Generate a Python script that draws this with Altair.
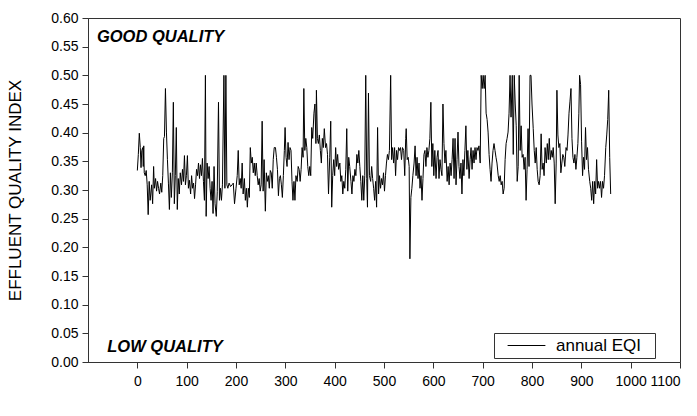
import altair as alt
import pandas as pd

# ---- data ----
day = [
    0, 2, 4, 6, 7.5, 9, 11, 12, 13, 14, 16, 18, 20, 22, 24, 26, 29, 31, 33, 34.5,
    37, 39, 41, 43, 45, 47.5, 49.5, 51.5, 53.5, 55, 57, 59, 61, 63, 65, 67, 69, 71, 73, 75,
    77, 79, 81, 83, 85, 87, 89.5, 91.5, 93.5, 95.5, 97.5, 99.5, 101.5, 103.5, 105.5, 108, 110, 112, 114, 116,
    118, 120, 122, 124, 126, 128, 130, 132, 134, 136, 138, 139.5, 141.5, 143.5, 145.5, 147.5, 149.5, 151.5, 153.5, 155.5,
    157.5, 160, 162, 164.5, 166.5, 168.5, 170.5, 172.5, 175.5, 177.5, 179.5, 181.5, 183.5, 186, 189, 192,
    194.5, 197, 200, 202.5, 204.5, 206.5, 208.5, 210.5, 212.5, 214.5, 217, 219, 221, 223, 225, 227, 229, 231, 233, 235,
    237, 239, 241, 243, 245, 247, 249, 251, 253, 255, 257, 259.5, 261.5, 263.5, 265.5, 267.5, 269.5, 271.5, 273.5, 275.5,
    277.5, 280, 282, 284, 286, 288, 290, 292, 294, 296, 298, 299.5, 301.5, 303.5, 305.5, 307.5, 309.5, 311.5, 313.5, 315.5,
    317.5, 319.5, 321.5, 324, 326, 328, 330, 332, 334, 336, 337.5, 339.5, 341.5, 343.5, 345.5, 347.5, 349.5, 351.5, 353.5, 355.5,
    358, 360, 362, 363, 365, 367, 369, 371, 373, 375, 377, 379, 381.5, 383.5, 385.5, 387.5,
    390, 392, 394, 396, 398, 400, 402, 404, 406, 408, 410.5, 412.5, 414.5, 416.5, 418.5, 420.5, 422.5, 424.5, 426.5, 428.5,
    430.5, 433, 435, 437, 439, 441, 443, 445, 447, 449, 451, 453, 455, 457, 459, 461, 463, 465, 466.5, 468.5,
    470.5, 473, 475, 477, 479, 481, 483, 485, 487, 489, 491, 493, 495, 497, 499, 501, 503, 505, 507, 509,
    511, 513.5, 515.5, 517.5, 519.5, 521.5, 523.5, 525.5, 527.5, 529.5, 531.5, 533.5, 535.5, 537.5, 540, 542, 544, 545, 547, 549,
    551, 552.5, 554.5, 556.5, 558.5, 561, 563, 565, 567, 569, 571, 573, 575, 577, 579, 581,
    583, 585, 587, 589, 591, 593, 595, 597, 599, 601, 603, 605.5, 607.5, 609.5, 611.5, 613.5, 615.5, 617.5, 619.5, 621.5,
    623.5, 625.5, 628, 630, 632, 634, 636, 638, 640, 642, 644, 646, 648, 650, 652, 654, 656, 658, 660, 662,
    664, 666, 668, 670, 672.5, 674.5, 676.5, 678.5, 680.5, 682.5, 684.5, 686.5, 688.5, 690.5, 692.5, 695, 697, 699, 701, 703,
    705, 707, 709, 711, 713, 715, 717, 719, 721, 723, 725, 727, 729, 731.5, 733.5, 735.5, 737.5, 739.5, 741.5, 743.5,
    745.5, 747.5, 749.5, 751.5, 753.5, 755.5, 757.5, 760, 762, 764, 766, 768, 770, 772, 774, 776,
    778, 780, 782, 784, 786, 788, 790, 792, 794, 796, 798, 800, 802.5, 804.5, 806.5, 808.5, 810.5, 812.5, 814.5, 816.5,
    818.5, 820.5, 822.5, 824.5, 826.5, 829, 831, 833, 835, 837, 839, 841, 843, 845, 847, 849, 850.5, 852.5, 854.5, 856.5,
    858.5, 860.5, 862.5, 864.5, 866.5, 869, 871, 873, 875, 877, 879, 881, 883, 885, 887, 889, 891, 893, 895, 896.5,
    898.5, 900.5, 902.5, 904.5, 906.5, 908.5, 910.5, 912.5, 914.5, 917, 919, 921, 923, 925, 927, 929, 931, 933, 935, 937,
    939, 941, 943, 945, 947, 949.5, 951.5, 953.5, 955.5, 957.5, 959.5,
]

eqi = [
    0.334, 0.362, 0.399, 0.374, 0.339, 0.369, 0.374, 0.341, 0.377, 0.330, 0.325, 0.334, 0.309, 0.257, 0.315, 0.282, 0.309, 0.276, 0.341, 0.303,
    0.320, 0.298, 0.315, 0.303, 0.293, 0.312, 0.296, 0.325, 0.390, 0.393, 0.477, 0.401, 0.353, 0.312, 0.266, 0.330, 0.287, 0.330, 0.453, 0.276,
    0.325, 0.409, 0.266, 0.320, 0.293, 0.330, 0.309, 0.336, 0.315, 0.360, 0.309, 0.325, 0.360, 0.303, 0.317, 0.293, 0.325, 0.303, 0.312, 0.285,
    0.309, 0.336, 0.325, 0.347, 0.320, 0.344, 0.325, 0.355, 0.315, 0.282, 0.500, 0.254, 0.347, 0.320, 0.341, 0.303, 0.282, 0.315, 0.259, 0.341,
    0.276, 0.254, 0.297, 0.453, 0.282, 0.303, 0.282, 0.309, 0.500, 0.303, 0.500, 0.309, 0.303, 0.312, 0.306, 0.309,
    0.312, 0.276, 0.303, 0.325, 0.369, 0.309, 0.320, 0.303, 0.347, 0.293, 0.320, 0.282, 0.303, 0.270, 0.303, 0.287, 0.374, 0.347, 0.357, 0.330,
    0.347, 0.325, 0.347, 0.325, 0.309, 0.320, 0.298, 0.309, 0.420, 0.298, 0.353, 0.263, 0.330, 0.315, 0.325, 0.303, 0.334, 0.330, 0.303, 0.353,
    0.374, 0.374, 0.357, 0.336, 0.290, 0.320, 0.325, 0.309, 0.287, 0.325, 0.369, 0.409, 0.357, 0.341, 0.383, 0.353, 0.374, 0.369, 0.315, 0.282,
    0.315, 0.282, 0.325, 0.315, 0.341, 0.336, 0.315, 0.336, 0.374, 0.357, 0.477, 0.369, 0.390, 0.374, 0.341, 0.325, 0.341, 0.325, 0.409, 0.390,
    0.434, 0.450, 0.381, 0.474, 0.390, 0.381, 0.396, 0.369, 0.347, 0.390, 0.374, 0.407, 0.374, 0.381, 0.362, 0.293,
    0.357, 0.420, 0.270, 0.325, 0.353, 0.325, 0.374, 0.341, 0.362, 0.336, 0.347, 0.315, 0.325, 0.293, 0.315, 0.303, 0.336, 0.407, 0.298, 0.357,
    0.341, 0.315, 0.293, 0.325, 0.315, 0.336, 0.325, 0.362, 0.347, 0.369, 0.341, 0.315, 0.282, 0.325, 0.282, 0.325, 0.500, 0.320, 0.270, 0.469,
    0.325, 0.315, 0.341, 0.320, 0.303, 0.282, 0.315, 0.270, 0.409, 0.293, 0.325, 0.303, 0.320, 0.309, 0.330, 0.298, 0.325, 0.347, 0.362, 0.353,
    0.369, 0.500, 0.353, 0.374, 0.347, 0.374, 0.325, 0.369, 0.353, 0.374, 0.369, 0.374, 0.353, 0.374, 0.369, 0.325, 0.390, 0.407, 0.353, 0.357,
    0.341, 0.180, 0.287, 0.303, 0.325, 0.347, 0.377, 0.325, 0.357, 0.320, 0.347, 0.303, 0.325, 0.282, 0.320, 0.362,
    0.369, 0.341, 0.374, 0.357, 0.369, 0.390, 0.453, 0.341, 0.381, 0.325, 0.369, 0.320, 0.357, 0.369, 0.320, 0.353, 0.336, 0.325, 0.450, 0.381,
    0.347, 0.369, 0.315, 0.341, 0.309, 0.347, 0.325, 0.353, 0.390, 0.320, 0.390, 0.309, 0.353, 0.401, 0.341, 0.320, 0.347, 0.293, 0.353, 0.325,
    0.369, 0.412, 0.336, 0.369, 0.320, 0.353, 0.374, 0.336, 0.369, 0.347, 0.374, 0.353, 0.374, 0.369, 0.377, 0.347, 0.500, 0.477, 0.500, 0.477,
    0.500, 0.434, 0.423, 0.401, 0.362, 0.336, 0.315, 0.347, 0.369, 0.381, 0.369, 0.357, 0.347, 0.325, 0.315, 0.325, 0.309, 0.315, 0.293, 0.303,
    0.353, 0.381, 0.390, 0.401, 0.434, 0.500, 0.427, 0.500, 0.362, 0.500, 0.450, 0.412, 0.315, 0.341, 0.500, 0.369,
    0.412, 0.357, 0.362, 0.336, 0.357, 0.282, 0.336, 0.407, 0.341, 0.500, 0.500, 0.450, 0.407, 0.369, 0.347, 0.374, 0.336, 0.315, 0.309, 0.325,
    0.398, 0.336, 0.347, 0.325, 0.374, 0.347, 0.381, 0.353, 0.390, 0.353, 0.369, 0.357, 0.374, 0.347, 0.276, 0.347, 0.474, 0.396, 0.374, 0.381,
    0.330, 0.347, 0.362, 0.357, 0.341, 0.374, 0.369, 0.396, 0.434, 0.455, 0.477, 0.390, 0.357, 0.347, 0.362, 0.336, 0.357, 0.381, 0.434, 0.500,
    0.484, 0.384, 0.325, 0.357, 0.336, 0.409, 0.353, 0.374, 0.336, 0.315, 0.303, 0.282, 0.315, 0.276, 0.315, 0.293, 0.353, 0.303, 0.315, 0.303,
    0.315, 0.287, 0.315, 0.303, 0.325, 0.374, 0.396, 0.423, 0.474, 0.357, 0.293,
]

series_name = "annual EQI"
x_ticks = [0, 100, 200, 300, 400, 500, 600, 700, 800, 900, 1000, 1100]
y_ticks = [0.0, 0.05, 0.10, 0.15, 0.20, 0.25, 0.30, 0.35, 0.40, 0.45, 0.50, 0.55, 0.60]
note_text = ["GOOD QUALITY", "LOW QUALITY"]
note_x = [-82, -61]
note_y = [0.567, 0.026]

FONT = "Liberation Sans"
FRAME = "#333333"

df = pd.DataFrame({"day": day, "eqi": eqi, "series": [series_name] * len(day)})
notes = pd.DataFrame({"label": note_text, "nx": note_x, "ny": note_y})

x_scale = alt.Scale(domain=[-100, 1100], nice=False, zero=False)
y_scale = alt.Scale(domain=[0, 0.6], nice=False, zero=False)

x_axis = alt.Axis(values=x_ticks, title=None, format="d", labelPadding=6, labelOverlap=False)
y_axis = alt.Axis(values=y_ticks, format=".2f", title="EFFLUENT QUALITY INDEX",
                  titleFontSize=17, titleFontWeight="normal", titleFont=FONT,
                  titleX=-73, titleY=172, titleAngle=-90, titleAlign="center",
                  titleBaseline="middle", labelPadding=4, labelOverlap=False)

line = alt.Chart(df).mark_line(strokeWidth=1, color="black").encode(
    x=alt.X("day:Q", scale=x_scale, axis=x_axis),
    y=alt.Y("eqi:Q", scale=y_scale, axis=y_axis),
    color=alt.Color("series:N", scale=alt.Scale(range=["black"]),
                    legend=alt.Legend(title=" ", titleOrient="right", titlePadding=10,
                                      titleFontSize=8,
                                      orient="none", legendX=406, legendY=315,
                                      symbolType="M-2.7,0H2.7", symbolSize=196,
                                      symbolStrokeWidth=1, symbolStrokeColor="black",
                                      symbolFillColor="transparent",
                                      symbolOffset=20,
                                      labelFontSize=17, labelFont=FONT, labelColor="black",
                                      labelOffset=21, strokeColor=FRAME, fillColor="white",
                                      padding=4, cornerRadius=0)),
)

text = alt.Chart(notes).mark_text(align="left", baseline="middle", fontStyle="italic",
                                   fontWeight="bold", fontSize=16.5, font=FONT, color="black").encode(
    x=alt.X("nx:Q", scale=x_scale, axis=x_axis),
    y=alt.Y("ny:Q", scale=y_scale, axis=y_axis),
    text="label:N",
)

chart = alt.layer(line, text).properties(
    width=592, height=344,
    autosize=alt.AutoSizeParams(type="none"),
    padding={"left": 88, "top": 18, "right": 17, "bottom": 54},
    background="white",
).configure_view(stroke=FRAME, strokeWidth=1).configure_axis(
    grid=False, domainColor=FRAME, tickColor=FRAME, tickSize=6,
    labelFont=FONT, labelFontSize=14, labelColor="black", titleColor="black",
)

chart.save("out.html", embed_options={"renderer": "svg", "actions": False})
